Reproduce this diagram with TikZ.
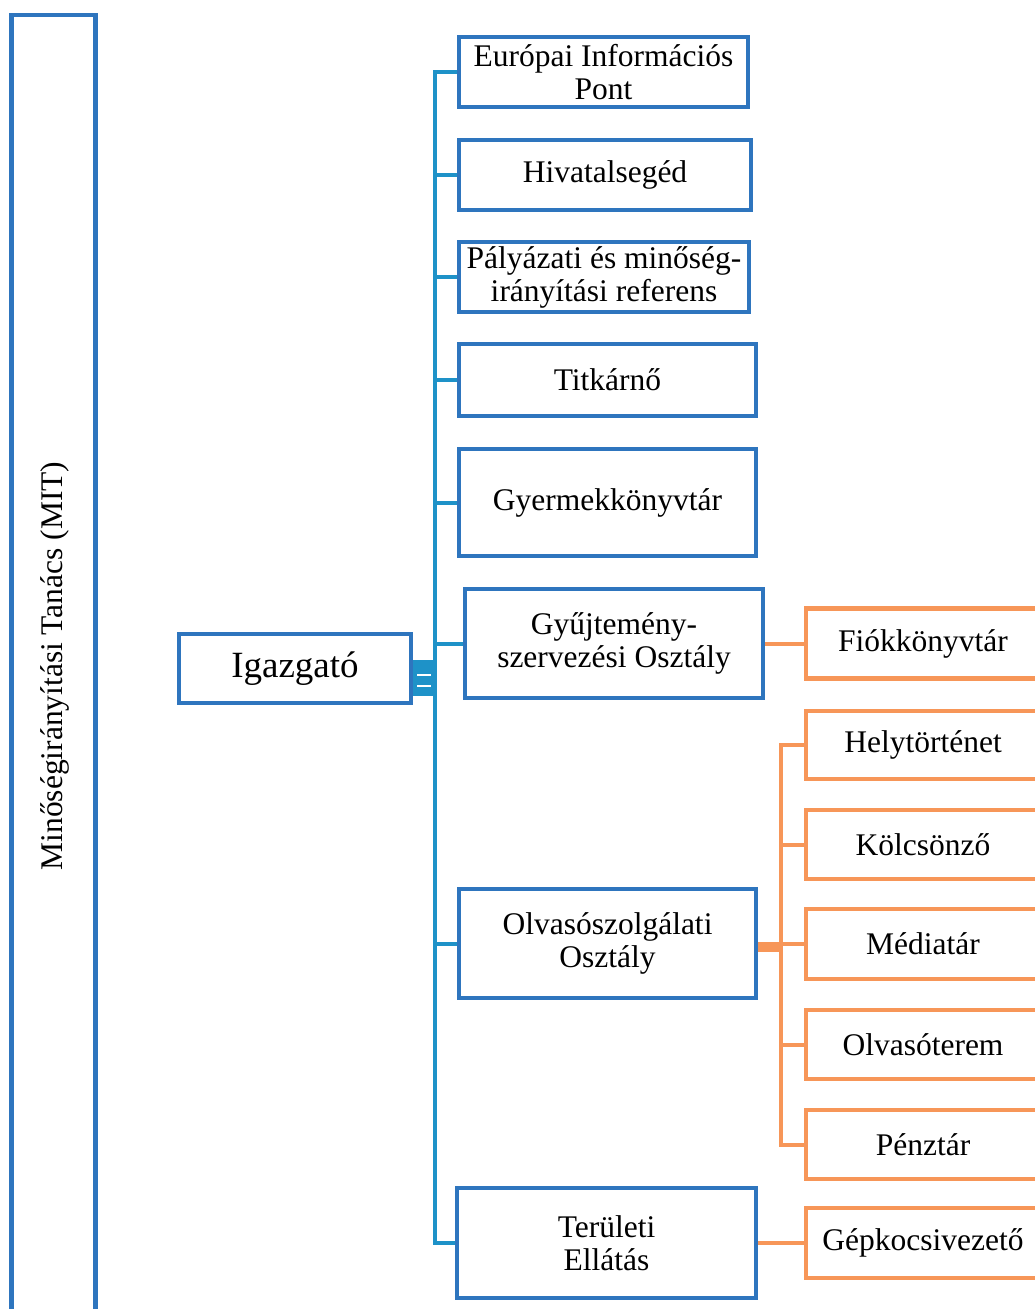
\documentclass[tikz,border=0pt]{standalone}
\usepackage{fontspec}
\setmainfont{Liberation Serif}
\definecolor{boxblue}{RGB}{46,117,190}
\definecolor{connblue}{RGB}{30,146,200}
\definecolor{orng}{RGB}{247,150,88}
\begin{document}
\begin{tikzpicture}[x=1pt,y=-1pt,
  txt/.style={font=\fontsize{31.5}{33}\selectfont, align=center, inner sep=0pt},
  bbox/.style={txt, draw=boxblue, line width=4.5pt, fill=white},
  obox/.style={txt, draw=orng, line width=4.5pt, fill=white, minimum width=234pt, minimum height=70pt},
  bline/.style={draw=connblue, line width=4pt},
  oline/.style={draw=orng, line width=4pt}]
\useasboundingbox (0,0) rectangle (1034,1309);
% MIT
\node[bbox, rotate=90, minimum width=1310pt, minimum height=84pt] (mit) at (53.5,670) {};
\node[txt, rotate=90] (mittxt) at (55,666) {Minőségirányítási Tanács (MIT)};
% blue boxes
\node[bbox, minimum width=289pt, minimum height=70pt] (eu) at (603.5,72) {Európai Információs\\Pont};
\node[bbox, minimum width=292pt, minimum height=70pt] (hiv) at (605,175) {Hivatalsegéd};
\node[bbox, minimum width=290pt, minimum height=70pt] (pal) at (604,277) {Pályázati és minőség-\\irányítási referens};
\node[bbox, minimum width=297pt, minimum height=72pt] (tit) at (607.5,380) {Titkárnő};
\node[bbox, minimum width=297pt, minimum height=107pt] (gyer) at (607.5,502.5) {Gyermekkönyvtár};
\node[bbox, minimum width=298pt, minimum height=109pt] (gyuj) at (614,643.5) {Gyűjtemény-\\szervezési Osztály};
\node[bbox, minimum width=297pt, minimum height=109pt] (olv) at (607.5,943.5) {Olvasószolgálati\\Osztály};
\node[bbox, minimum width=299pt, minimum height=110pt] (ter) at (606.5,1243) {Területi\\Ellátás};
\node[bbox, minimum width=232pt, minimum height=69pt, font=\fontsize{37}{38}\selectfont] (igaz) at (295,668.5) {Igazgató};
% orange boxes
\node[obox] (fiok) at (923,643.5) {Fiókkönyvtár};
\node[obox, minimum height=68pt] (hely) at (923,745) {Helytörténet};
\node[obox, minimum height=69pt] (kolcs) at (923,844.5) {Kölcsönző};
\node[obox] (media) at (923,944) {Médiatár};
\node[obox, minimum height=69pt] (olvt) at (923,1044.5) {Olvasóterem};
\node[obox, minimum height=69pt] (penz) at (923,1144.5) {Pénztár};
\node[obox] (gep) at (923,1243) {Gépkocsivezető};
% blue connectors
\coordinate (tb) at (435,1243);
\draw[bline] (eu.west) -| (tb) -- (ter.west);
\foreach \n in {hiv,pal,tit,gyer,gyuj,olv}
  \draw[bline] (\n.west) -- (\n.west -| tb);
\draw[draw=connblue, line width=36pt] ([yshift=-9pt]igaz.east) -- ([yshift=-9pt]igaz.east -| tb);
\draw[white, line width=1.5pt] ([xshift=4pt,yshift=-6.5pt]igaz.east) -- ([xshift=-4pt,yshift=-6.5pt]igaz.east -| tb);
\draw[white, line width=1.2pt] ([xshift=4pt,yshift=-17.5pt]igaz.east) -- ([xshift=-4pt,yshift=-17.5pt]igaz.east -| tb);
% orange connectors
\coordinate (otb) at (781,1144.5);
\draw[oline] (hely.west) -| (otb) -- (penz.west);
\foreach \n in {kolcs,media,olvt}
  \draw[oline] (\n.west) -- (\n.west -| otb);
\draw[draw=orng, line width=10pt] ([yshift=-3pt]olv.east) -- ([yshift=-3pt]olv.east -| otb);
\draw[oline] (gyuj.east) -- (fiok.west);
\draw[oline] (ter.east) -- (gep.west);
\end{tikzpicture}
\end{document}
